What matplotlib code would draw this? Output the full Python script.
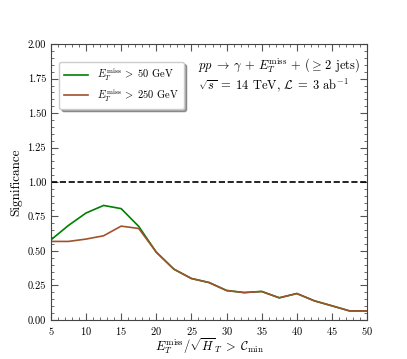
import matplotlib
matplotlib.use("Agg")
import matplotlib.pyplot as plt
from matplotlib.ticker import MultipleLocator

plt.rcParams['font.family'] = 'serif'
plt.rcParams['font.serif'] = ['cmr10']
plt.rcParams['mathtext.fontset'] = 'cm'
plt.rcParams['axes.formatter.use_mathtext'] = True

cmin = [5, 7.5, 10, 12.5, 15, 17.5, 20, 22.5, 25, 27.5, 30, 32.5, 35, 37.5, 40, 42.5, 45, 47.5, 50]
sig_50 = [0.58, 0.685, 0.775, 0.83, 0.807, 0.678, 0.491, 0.368, 0.30, 0.271, 0.213, 0.198, 0.206, 0.16, 0.191, 0.138, 0.102, 0.065, 0.065]
sig_250 = [0.569, 0.569, 0.586, 0.61, 0.68, 0.663, 0.491, 0.368, 0.30, 0.271, 0.213, 0.198, 0.206, 0.16, 0.191, 0.138, 0.102, 0.065, 0.065]

fig = plt.figure(figsize=(4.07, 3.59), dpi=100)
ax = fig.add_axes([0.125, 0.109, 0.777, 0.768])

ax.plot(cmin, sig_50, color='#008000', lw=1.2, label=r'$E_T^{\rm miss}\; >\; 50$ GeV')
ax.plot(cmin, sig_250, color='#a0522d', lw=1.2, label=r'$E_T^{\rm miss}\; >\; 250$ GeV')
ax.axhline(1.0, color='black', ls='--', lw=1.2)

ax.set_xlim(5, 50)
ax.set_ylim(0, 2)
ax.xaxis.set_major_locator(MultipleLocator(5))
ax.xaxis.set_minor_locator(MultipleLocator(1))
ax.yaxis.set_major_locator(MultipleLocator(0.25))
ax.yaxis.set_minor_locator(MultipleLocator(0.05))
ax.yaxis.set_major_formatter(matplotlib.ticker.FormatStrFormatter('%.2f'))
ax.tick_params(which='both', direction='in', top=True, right=True, labelsize=7.5, color='#555555')
ax.tick_params(which='major', length=5)
ax.tick_params(which='minor', length=2.5)
ax.tick_params(axis='x', pad=4)
for s in ax.spines.values():
    s.set_color('#444444')

ax.set_xlabel(r'$E_T^{\rm miss}/\sqrt{H}_T\; >\; \mathcal{C}_{\rm min}$', fontsize=9, labelpad=-1)
ax.set_ylabel('Significance', fontsize=9.5)

ax.legend(loc='upper left', bbox_to_anchor=(0.01, 0.955), fontsize=7.5, shadow=True,
          fancybox=True, framealpha=1, handlelength=2.3, labelspacing=0.35,
          borderpad=0.5)
ax.text(0.465, 0.955, r'$pp\; \to\; \gamma\, +\, E_T^{\rm miss}\, +\, (\geq\, 2$ jets)' + '\n'
        + r'$\sqrt{s}\; =\; 14$ TeV$,\, \mathcal{L}\; =\; 3$ ab$^{-1}$',
        transform=ax.transAxes, fontsize=9, va='top', ha='left', linespacing=1.2)

fig.savefig('out.png', dpi=100)
